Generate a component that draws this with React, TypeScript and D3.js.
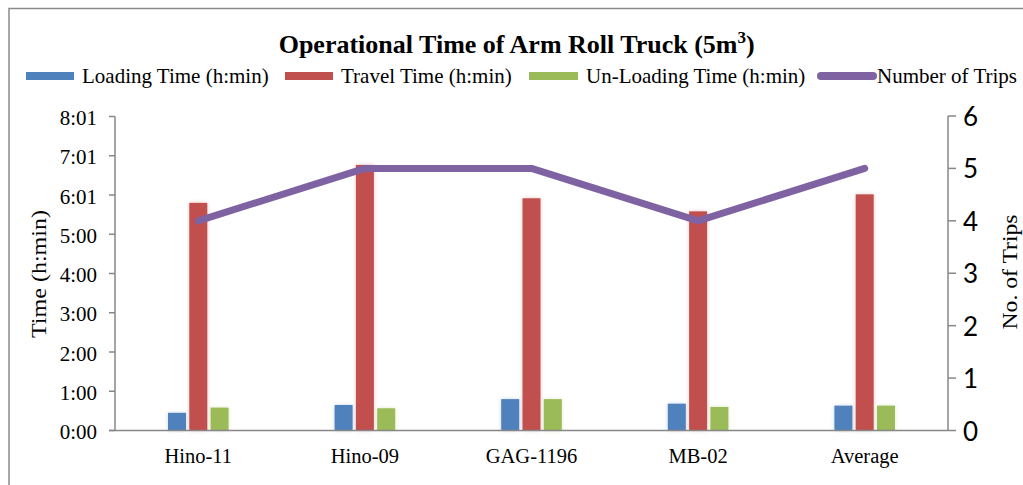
import React from "react";
import * as d3 from "d3";

const categories = ["Hino-11", "Hino-09", "GAG-1196", "MB-02", "Average"];
const seriesNames = ["Loading Time (h:min)", "Travel Time (h:min)", "Un-Loading Time (h:min)"];
const loadingTime = ["0:27", "0:39", "0:48", "0:41", "0:38"];
const travelTime = ["5:48", "6:46", "5:55", "5:35", "6:01"];
const unloadingTime = ["0:35", "0:34", "0:48", "0:36", "0:38"];
const tripsName = "Number of Trips";
const trips = [4, 5, 5, 4, 5];
const leftTickLabels = ["0:00", "1:00", "2:00", "3:00", "4:00", "5:00", "6:01", "7:01", "8:01"];
const rightTicks = [0, 1, 2, 3, 4, 5, 6];
const title = "Operational Time of Arm Roll Truck (5m";
const leftAxisTitle = "Time (h:min)";
const rightAxisTitle = "No. of Trips";

const colors = ["#4F81BD", "#C0504D", "#9BBB59"];
const lineColor = "#7F62A2";
const axisColor = "#878787";
const serif = "'Liberation Serif', 'Times New Roman', serif";
const sans = "Lato, 'Open Sans', sans-serif";

const toMin = (s: string) => {
  const [h, m] = s.split(":").map(Number);
  return h * 60 + m;
};

export default function App() {
  const W = 1023, H = 485;
  const left = 115, right = 948, top = 116.5, bottom = 430.5;
  const x0 = d3.scaleBand<string>().domain(categories).range([left, right]).padding(0);
  const x1 = d3.scaleBand<number>().domain([0, 1, 2]).range([-30.3, 30.3]).paddingInner(0.155).paddingOuter(0);
  const y = d3.scaleLinear().domain([0, 480]).range([bottom, top]);
  const y2 = d3.scaleLinear().domain([0, 6]).range([bottom, 116]);
  const series = [loadingTime, travelTime, unloadingTime].map((arr) => arr.map(toMin));
  const cx = (c: string) => (x0(c) as number) + x0.bandwidth() / 2;
  const line = d3.line<number>().x((_, i) => cx(categories[i])).y((d) => y2(d));
  const legendX = [26, 285, 529, 817];
  const legendW = [48, 48, 49, 60];
  const legendY = 76;

  return (
    <svg width={W} height={H} style={{ position: "absolute", left: 0, top: 0, background: "#fff" }}>
      <defs>
        <filter id="glow" x="-60%" y="-10%" width="220%" height="120%">
          <feGaussianBlur in="SourceGraphic" stdDeviation="2.2" result="b" />
          <feComponentTransfer in="b" result="b2">
            <feFuncA type="linear" slope="0.3" />
          </feComponentTransfer>
          <feMerge>
            <feMergeNode in="b2" />
            <feMergeNode in="SourceGraphic" />
          </feMerge>
        </filter>
      </defs>
      <rect x={0} y={0} width={W} height={H} fill="#fff" />
      <path d={`M9,${H + 5} V8.5 H${W + 5}`} fill="none" stroke="#8a8a8a" strokeWidth={1.5} />

      <text x={516.7} y={53} textAnchor="middle" fontFamily={serif} fontWeight="bold" fontSize={26} fill="#000">
        <tspan>{title}</tspan>
        <tspan dy={-10} fontSize={17}>3</tspan>
        <tspan dy={10}>)</tspan>
      </text>

      {seriesNames.map((n, i) => (
        <g key={n}>
          <rect x={legendX[i]} y={legendY - 4} width={legendW[i]} height={8} fill={colors[i]} />
          <text x={legendX[i] + legendW[i] + 8} y={legendY} dominantBaseline="central" fontFamily={serif} fontSize={21} fill="#000">{n}</text>
        </g>
      ))}
      <line x1={legendX[3] + 4} x2={legendX[3] + legendW[3] - 4} y1={legendY} y2={legendY} stroke={lineColor} strokeWidth={8} strokeLinecap="round" />
      <text x={legendX[3] + legendW[3]} y={legendY} dominantBaseline="central" fontFamily={serif} fontSize={21} fill="#000">{tripsName}</text>

      {series.map((vals, si) =>
        vals.map((v, ci) => (
          <rect key={`${si}-${ci}`} filter="url(#glow)"
            x={cx(categories[ci]) + (x1(si) as number)} width={x1.bandwidth()}
            y={y(v)} height={y(0) - y(v)} fill={colors[si]} />
        ))
      )}

      <line x1={left} x2={left} y1={top} y2={bottom} stroke={axisColor} strokeWidth={1.5} />
      <line x1={left - 6} x2={right} y1={bottom} y2={bottom} stroke={axisColor} strokeWidth={1.5} />
      <line x1={right} x2={right} y1={y2(6)} y2={bottom} stroke={axisColor} strokeWidth={1.5} />
      {leftTickLabels.map((t, i) => (
        <g key={t}>
          <line x1={left - 6} x2={left} y1={y(i * 60)} y2={y(i * 60)} stroke={axisColor} strokeWidth={1.5} />
          <text x={97} y={y(i * 60) + 1.5} textAnchor="end" dominantBaseline="central" fontFamily={serif} fontSize={21} fill="#000">{t}</text>
        </g>
      ))}
      {rightTicks.map((t) => (
        <g key={t}>
          <line x1={right} x2={right + 8} y1={y2(t)} y2={y2(t)} stroke={axisColor} strokeWidth={1.5} />
          <text x={963} y={y2(t)} dominantBaseline="central" fontFamily={sans} fontSize={26} fill="#000">{t}</text>
        </g>
      ))}
      {categories.map((c) => (
        <text key={c} x={cx(c)} y={463} textAnchor="middle" fontFamily={serif} fontSize={20.5} fill="#000">{c}</text>
      ))}

      <text transform={`translate(46,274) rotate(-90)`} textAnchor="middle" fontFamily={serif} fontSize={22}
        textLength={128} lengthAdjust="spacingAndGlyphs" fill="#000">{leftAxisTitle}</text>
      <text transform={`translate(1017,272) rotate(-90)`} textAnchor="middle" fontFamily={serif} fontSize={21}
        textLength={115} lengthAdjust="spacingAndGlyphs" fill="#000">{rightAxisTitle}</text>

      <path d={line(trips) as string} fill="none" stroke={lineColor} strokeWidth={7} strokeLinecap="round" strokeLinejoin="round" />
    </svg>
  );
}
